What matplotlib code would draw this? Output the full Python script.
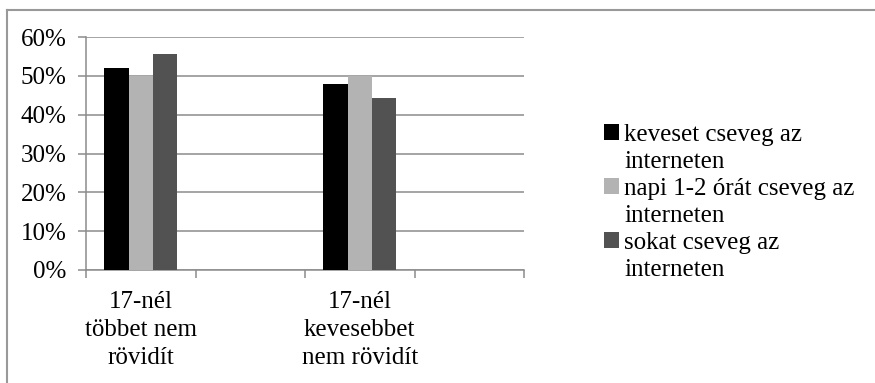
import numpy as np
from matplotlib import pyplot as plt
from matplotlib.patches import Rectangle
from matplotlib.lines import Line2D

categories = ['17-nél\ntöbbet nem\nrövidít', '', '17-nél\nkevesebbet\nnem rövidít', '']
series_names = ['keveset cseveg az', 'napi 1-2 órát cseveg az', 'sokat cseveg az']
series_colors = ['#000000', '#b3b3b3', '#525252']
keveset = [52.0, np.nan, 48.0, np.nan]
napi = [50.0, np.nan, 50.0, np.nan]
sokat = [55.7, np.nan, 44.3, np.nan]
y_ticks = [0, 10, 20, 30, 40, 50, 60]

plt.rcParams['font.family'] = ['Liberation Serif', 'DejaVu Serif']
fs = 18

fig = plt.figure(figsize=(8.75, 3.83), dpi=100)
ax = fig.add_axes([86 / 875, 1 - 270 / 383, (524 - 86) / 875, (270 - 37) / 383])

x = np.arange(len(categories)) + 0.5
width = 0.222
bars = []
for i, vals in enumerate([keveset, napi, sokat]):
    b = ax.bar(x + (i - 1) * width, vals, width, color=series_colors[i], zorder=3)
    bars.append(b)

grid_col = '#8c8c8c'
ax.set_xlim(0, len(categories))
ax.set_ylim(0, 60)
ax.set_yticks(y_ticks)
ax.set_yticklabels([f'{v}%' for v in y_ticks])
ax.yaxis.grid(True, color=grid_col, linewidth=1.1, zorder=0)
ax.set_xticks(np.arange(len(categories) + 1))
ax.set_xticklabels([])
ax.set_xticks(x, minor=True)
ax.set_xticklabels(categories, minor=True, fontsize=fs, linespacing=1.36)
ax.tick_params(axis='x', which='major', length=6, color=grid_col, width=1.1)
ax.tick_params(axis='x', which='minor', length=0, pad=15)
ax.tick_params(axis='y', length=6, color=grid_col, width=1.1, labelsize=fs, pad=8)
for s in ['top', 'right']:
    ax.spines[s].set_visible(False)
for s in ['left', 'bottom']:
    ax.spines[s].set_color(grid_col)
    ax.spines[s].set_linewidth(1.1)

# legend: second line of each label as an entry with an invisible handle
blank = Rectangle((0, 0), 1, 1, fill=False, edgecolor='none', visible=False)
handles, labels = [], []
for b, name in zip(bars, series_names):
    handles += [b, blank]
    labels += [name, 'interneten']
fig.legend(handles, labels, loc='upper left', bbox_to_anchor=(604 / 875, 1 - 124 / 383),
           frameon=False, fontsize=fs, handlelength=0.6, handleheight=0.6,
           handletextpad=0.2, labelspacing=0.2, borderpad=0, borderaxespad=0)

# outer frame (top and left edges only visible)
fig.add_artist(Line2D([7 / 875, 1], [1 - 10 / 383, 1 - 10 / 383], color='#999999', linewidth=1.5))
fig.add_artist(Line2D([7 / 875, 7 / 875], [0, 1 - 10 / 383], color='#999999', linewidth=1.5))

fig.savefig('out.png', dpi=100)
